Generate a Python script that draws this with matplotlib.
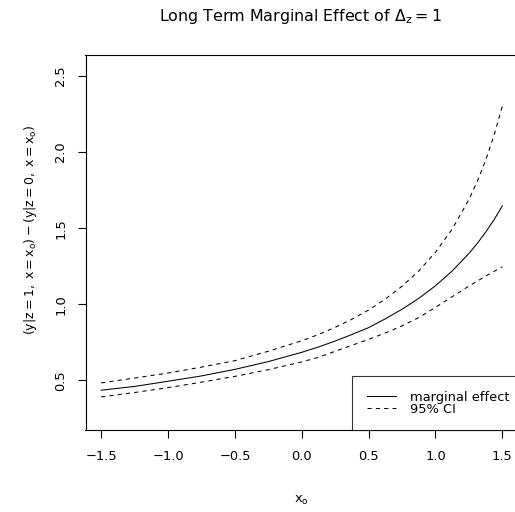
import matplotlib
matplotlib.use("Agg")
import matplotlib.pyplot as plt
from matplotlib.lines import Line2D

# ---- data ----
x_o = [-1.5, -1.25, -1.0, -0.75, -0.5, -0.25, 0.0, 0.125, 0.25, 0.375, 0.5,
       0.625, 0.75, 0.875, 1.0, 1.125, 1.25, 1.3125, 1.375, 1.4375, 1.5]
marginal_effect = [0.436, 0.461, 0.495, 0.530, 0.573, 0.624, 0.685, 0.720, 0.759, 0.802, 0.847,
                   0.905, 0.968, 1.039, 1.122, 1.219, 1.334, 1.400, 1.474, 1.555, 1.646]
ci_upper = [0.484, 0.516, 0.549, 0.588, 0.630, 0.692, 0.761, 0.802, 0.849, 0.902, 0.963,
            1.035, 1.119, 1.219, 1.342, 1.494, 1.688, 1.807, 1.946, 2.108, 2.302]
ci_lower = [0.392, 0.421, 0.453, 0.489, 0.527, 0.571, 0.622, 0.652, 0.692, 0.731, 0.770,
            0.812, 0.859, 0.913, 0.980, 1.050, 1.120, 1.152, 1.185, 1.216, 1.247]
x_ticks = [-1.5, -1.0, -0.5, 0.0, 0.5, 1.0, 1.5]
y_ticks = [0.5, 1.0, 1.5, 2.0, 2.5]
legend_labels = ["marginal effect", "95% CI"]

plt.rcParams["font.family"] = ["DejaVu Sans"]
plt.rcParams["mathtext.fontset"] = "custom"
plt.rcParams["mathtext.rm"] = "DejaVu Sans"
plt.rcParams["mathtext.it"] = "DejaVu Sans"
plt.rcParams["mathtext.bf"] = "DejaVu Sans:bold"
plt.rcParams["axes.unicode_minus"] = True

W, H = 515, 512
fig = plt.figure(figsize=(W / 100, H / 100), dpi=100)
left, right, top, bottom = 85.5, 518, 55, 430.3
ax = fig.add_axes([left / W, 1 - bottom / H, (right - left) / W, (bottom - top) / H])

lw = 0.75
dash = (0, (4, 4))
ax.plot(x_o, marginal_effect, color="black", lw=lw, linestyle="-")
ax.plot(x_o, ci_upper, color="black", lw=lw, linestyle=dash)
ax.plot(x_o, ci_lower, color="black", lw=lw, linestyle=dash)

ax.set_xlim(-1.617, 1.617)
ax.set_ylim(0.173, 2.637)
ax.set_xticks(x_ticks)
ax.set_xticklabels([f"{v:.1f}".replace("-", "\u2212") for v in x_ticks])
ax.set_yticks(y_ticks)
ax.set_yticklabels([f"{v:.1f}" for v in y_ticks], rotation=90, va="center")

fs = 9.4
for s in ax.spines.values():
    s.set_linewidth(0.8)
    s.set_color("black")
ax.tick_params(axis="both", direction="out", length=6.1, width=0.8,
               labelsize=fs, color="black")
ax.tick_params(axis="x", pad=8.0)
ax.tick_params(axis="y", pad=7.0)

fig.text(300 / W, 1 - 20.7 / H, r"Long Term Marginal Effect of $\Delta_{z} = 1$",
         ha="center", va="baseline", fontsize=11.4)
fig.text(301.5 / W, 1 - 503 / H, r"$x_{o}$", ha="center", va="baseline", fontsize=fs)
fig.text(31 / W, 1 - 230 / H,
         r"$(y|z = 1,\;x = x_{o}) - (y|z = 0,\;x = x_{o})$",
         ha="center", va="center", rotation=90, fontsize=9.0)

handles = [Line2D([], [], color="black", lw=lw, linestyle="-"),
           Line2D([], [], color="black", lw=lw, linestyle=dash)]
leg_x = (352.3 - left) / (right - left)
leg = ax.legend(handles, legend_labels, loc="lower left", bbox_to_anchor=(leg_x, 0.0),
                fontsize=fs, frameon=True, fancybox=False, handlelength=2.18,
                handletextpad=1.1, borderpad=1.13, labelspacing=-0.1, borderaxespad=0)
leg.get_frame().set_edgecolor("black")
leg.get_frame().set_linewidth(0.8)

fig.savefig("out.png", dpi=100)
